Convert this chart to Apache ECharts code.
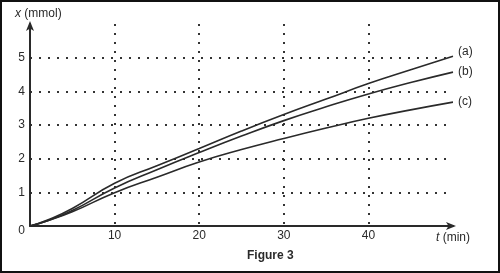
<!DOCTYPE html>
<html><head><meta charset="utf-8">
<script src="https://cdn.jsdelivr.net/npm/echarts@6/dist/echarts.min.js"></script>
<style>
html,body{margin:0;padding:0;background:#fff;}
#wrap{position:relative;width:500px;height:273px;}
#chart{width:500px;height:273px;}
#frame{position:absolute;left:0;top:0;width:500px;height:273px;box-sizing:border-box;border:2px solid #111;pointer-events:none;}
</style></head>
<body>
<div id="wrap"><div id="chart"></div><div id="frame"></div></div>
<script>
const times = [0, 2, 5, 10, 15, 20, 25, 30, 35, 40, 45, 50];
const seriesA = [0, 0.17, 0.52, 1.27, 1.79, 2.30, 2.82, 3.31, 3.77, 4.23, 4.64, 5.04];
const seriesB = [0, 0.15, 0.46, 1.13, 1.67, 2.18, 2.67, 3.13, 3.54, 3.92, 4.26, 4.57];
const seriesC = [0, 0.15, 0.42, 0.99, 1.45, 1.90, 2.27, 2.60, 2.91, 3.20, 3.45, 3.68];
const seriesNames = ['(a)', '(b)', '(c)'];
const xTicks = [0, 10, 20, 30, 40];
const yTicks = [0, 1, 2, 3, 4, 5];

const ink = '#2a2a2a';
const font = 'Liberation Sans, Arial, sans-serif';
function pairs(vals){ return times.map((t,i)=>[t, vals[i]]); }

const chart = echarts.init(document.getElementById('chart'), null, {renderer:'canvas'});
const mk = (name, vals, off) => ({
  type:'line', name, data: pairs(vals), smooth:0.5, symbol:'none',
  lineStyle:{color:ink, width:1.6},
  endLabel:{show:true, formatter:name, color:ink, fontSize:12, fontFamily:font, distance:5, offset:off},
  animation:false
});
chart.setOption({
  animation:false,
  grid:{left:30, right:47, top:24, bottom:47},
  xAxis:{
    type:'value', min:0, max:50, interval:10,
    axisLine:{show:true, lineStyle:{color:ink, width:2}, symbol:['none','arrow'], symbolSize:[6,10], symbolOffset:[0,3]},
    axisTick:{show:false},
    axisLabel:{color:ink, fontSize:12, fontFamily:font, margin:4, showMinLabel:false, showMaxLabel:false,
      formatter:v => xTicks.includes(v) ? String(v) : ''},
    splitLine:{show:true, showMinLine:false, showMaxLine:false, lineStyle:{color:'#333', width:2, type:[2,7]}}
  },
  yAxis:{
    type:'value', min:0, max:6, interval:1,
    axisLine:{show:true, lineStyle:{color:ink, width:2}, symbol:['none','arrow'], symbolSize:[6,10], symbolOffset:[0,3]},
    axisTick:{show:false},
    axisLabel:{color:ink, fontSize:12, fontFamily:font, margin:5, showMaxLabel:false,
      formatter:v => v===0 ? '{z|0}' : (yTicks.includes(v) ? String(v) : ''),
      rich:{z:{padding:[10,0,0,0], fontSize:12, fontFamily:font, color:ink}}},
    splitLine:{show:true, showMinLine:false, showMaxLine:false, lineStyle:{color:'#333', width:2, type:[2,7]}}
  },
  graphic:[
    {type:'text', left:15, top:8, style:{text:'{i|x} (mmol)', fill:ink, font:'12px '+font,
      rich:{i:{fontStyle:'italic', fontSize:12, fontFamily:font, fill:ink}}}},
    {type:'text', left:436, top:232, style:{text:'{i|t} (min)', fill:ink, font:'12px '+font,
      rich:{i:{fontStyle:'italic', fontSize:12, fontFamily:font, fill:ink}}}},
    {type:'text', left:247, top:250, style:{text:'Figure 3', fill:ink, font:'bold 12px '+font}}
  ],
  series:[
    mk(seriesNames[0], seriesA, [0,-5]),
    mk(seriesNames[1], seriesB, [0,0]),
    mk(seriesNames[2], seriesC, [0,0])
  ]
});
</script>
</body></html>
